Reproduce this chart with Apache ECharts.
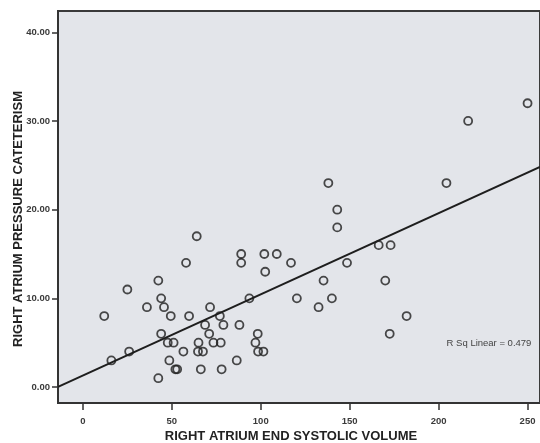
<!DOCTYPE html>
<html>
<head>
<meta charset="utf-8">
<script src="https://cdn.jsdelivr.net/npm/echarts@6/dist/echarts.min.js"></script>
<style>
  html, body { margin: 0; padding: 0; background: #ffffff; }
  #chart { width: 540px; height: 443px; }
</style>
</head>
<body>
<div id="chart"></div>
<script>
// Right atrium end systolic volume (x) vs. catheter-measured pressure (y)
const esVolume = [
  64, 58, 42.4, 25, 44, 36, 45.6, 71.5, 49.4, 59.7,
  12, 77, 68.7, 79, 88, 44, 71, 98.3, 47.7, 51,
  65, 73.4, 77.5, 97, 56.5, 64.7, 67.5, 26, 98.5, 101.5,
  16, 48.6, 86.5, 52, 53, 66.3, 78, 42.4, 89, 89,
  102, 109, 117, 102.5, 93.6, 120.3, 132.5, 138, 143, 143,
  166.3, 173, 148.5, 135.3, 170, 140, 182, 172.5, 250, 216.6,
  204.4
];
const raPressure = [
  17, 14, 12, 11, 10, 9, 9, 9, 8, 8,
  8, 8, 7, 7, 7, 6, 6, 6, 5, 5,
  5, 5, 5, 5, 4, 4, 4, 4, 4, 4,
  3, 3, 3, 2, 2, 2, 2, 1, 15, 14,
  15, 15, 14, 13, 10, 10, 9, 23, 20, 18,
  16, 16, 14, 12, 12, 10, 8, 6, 32, 30,
  23
];

// Linear fit: pressure = intercept + slope * volume
const fitIntercept = 1.3;
const fitSlope = 0.0915;
const rSquared = 0.479;

const xTicks = [0, 50, 100, 150, 200, 250];
const yTicks = [0, 10, 20, 30, 40];

const xMin = -14, xMax = 257;
const yMin = -1.8, yMax = 42.4;

const points = esVolume.map((v, i) => [v, raPressure[i]]);
const fitLine = [
  [xMin, fitIntercept + fitSlope * xMin],
  [xMax, fitIntercept + fitSlope * xMax]
];

const chart = echarts.init(document.getElementById('chart'), null, { renderer: 'canvas' });

const tickFont = {
  color: '#3a3a3a',
  fontFamily: 'Liberation Sans, Arial, sans-serif',
  fontWeight: 'bold',
  fontSize: 9.5
};

chart.setOption({
  animation: false,
  backgroundColor: '#ffffff',
  grid: {
    left: 58, top: 11, right: 0, bottom: 40,
    show: true,
    backgroundColor: '#e3e5ea',
    borderColor: '#3a3a3a',
    borderWidth: 2
  },
  xAxis: {
    type: 'value',
    min: xMin, max: xMax,
    axisLine: { show: true, onZero: false, lineStyle: { color: '#333', width: 2 } },
    axisTick: {
      show: true, inside: false, length: 7,
      customValues: xTicks,
      lineStyle: { color: '#333', width: 1.5 }
    },
    axisLabel: Object.assign({
      customValues: xTicks,
      margin: 13,
      formatter: v => String(v)
    }, tickFont),
    splitLine: { show: false }
  },
  yAxis: {
    type: 'value',
    min: yMin, max: yMax,
    axisLine: { show: true, onZero: false, lineStyle: { color: '#333', width: 2 } },
    axisTick: {
      show: true, inside: false, length: 6,
      customValues: yTicks,
      lineStyle: { color: '#333', width: 1.5 }
    },
    axisLabel: Object.assign({
      customValues: yTicks,
      margin: 8,
      formatter: v => v.toFixed(2)
    }, tickFont),
    splitLine: { show: false }
  },
  graphic: [
    {
      type: 'text',
      style: {
        text: 'RIGHT ATRIUM END SYSTOLIC VOLUME',
        x: 291, y: 436,
        align: 'center', verticalAlign: 'middle',
        fill: '#222',
        font: 'bold 13px "Liberation Sans", Arial, sans-serif'
      }
    },
    {
      type: 'text',
      x: 18, y: 219,
      rotation: Math.PI / 2,
      style: {
        text: 'RIGHT ATRIUM PRESSURE CATETERISM',
        x: 0, y: 0,
        align: 'center', verticalAlign: 'middle',
        fill: '#222',
        font: 'bold 13px "Liberation Sans", Arial, sans-serif'
      }
    },
    {
      type: 'text',
      style: {
        text: 'R Sq Linear = ' + rSquared.toFixed(3),
        x: 489, y: 343,
        align: 'center', verticalAlign: 'middle',
        fill: '#444',
        font: '9.5px "Liberation Sans", Arial, sans-serif'
      }
    }
  ],
  series: [
    {
      type: 'line',
      data: fitLine,
      showSymbol: false,
      symbol: 'none',
      silent: true,
      lineStyle: { color: '#1e1e1e', width: 2 },
      z: 2
    },
    {
      type: 'scatter',
      data: points,
      symbol: 'circle',
      symbolSize: 8,
      itemStyle: {
        color: 'rgba(0,0,0,0)',
        borderColor: '#1e1e1e',
        borderWidth: 1.8
      },
      z: 3
    }
  ]
});
</script>
</body>
</html>
